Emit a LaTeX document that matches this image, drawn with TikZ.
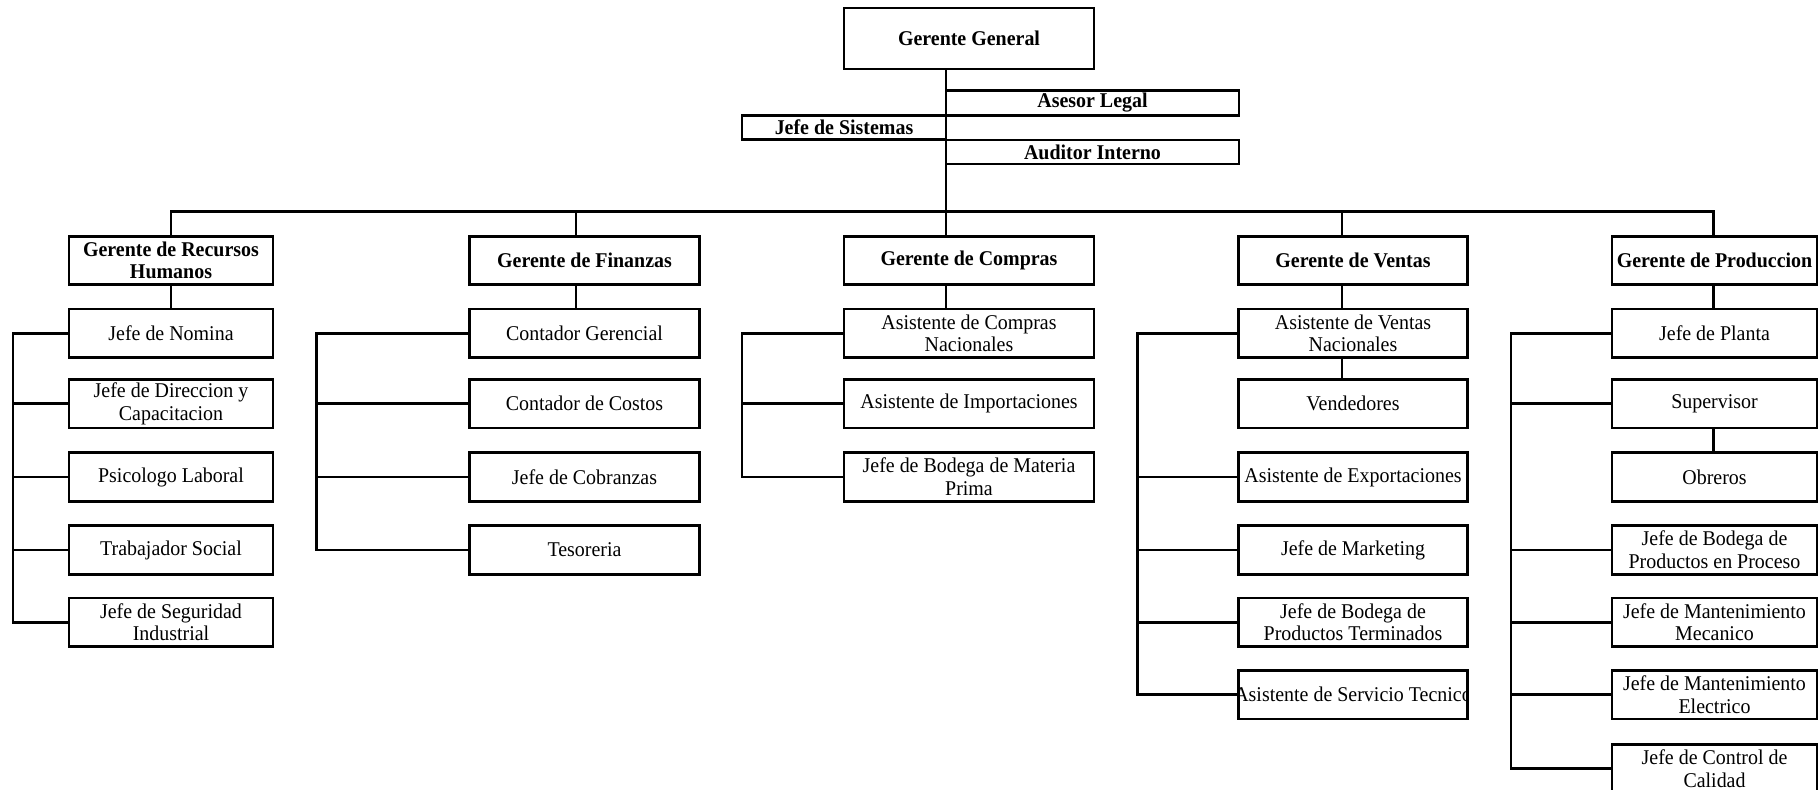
\documentclass[tikz,border=0pt]{standalone}
\usepackage{fontspec}
\setmainfont{Liberation Serif}[FakeStretch=0.95]
\begin{document}
\begin{tikzpicture}[x=0.5pt,y=-0.5pt,
  box/.style={draw, line width=1.35pt, inner sep=0pt, align=center,
              font=\fontsize{10.5}{11.3}\selectfont},
  head/.style={box, font=\bfseries\fontsize{10.5}{11.3}\selectfont},
  row/.style={minimum height=24.3pt},
  wrh/.style={minimum width=102pt},
  wfin/.style={minimum width=114.75pt},
  wcomp/.style={minimum width=125pt},
  wven/.style={minimum width=114.25pt},
  wprod/.style={minimum width=102.5pt},
  link/.style={line width=1.35pt}]
\useasboundingbox (0,0) rectangle (1818,790);
\fill[white] (0,0) rectangle (1818,790);
\clip (0,0) rectangle (1818,790);

% guide coordinates for the vertical lines
\coordinate (trunk) at (946,0);
\coordinate (bus) at (0,211.7);
\coordinate (drh) at (171,0);
\coordinate (dfin) at (576,0);
\coordinate (dven) at (1342,0);
\coordinate (dprod) at (1713.6,0);
\coordinate (brh) at (13,0);
\coordinate (bfin) at (316.6,0);
\coordinate (bcomp) at (742,0);
\coordinate (bven) at (1137.5,0);
\coordinate (bprod) at (1511,0);

% top level
\node[head, minimum width=125pt, minimum height=30.5pt] (gg) at (969,38.5) {Gerente General};
\node[head, minimum width=146.5pt, minimum height=12.2pt] (al) at (1092.5,103) {Asesor Legal};
\node[head, minimum width=102pt, minimum height=12pt] (js) at (844,127.5) {Jefe de Sistemas};
\node[head, minimum width=146.5pt, minimum height=12pt] (ai) at (1092.5,152) {Auditor Interno};

% managers
\node[head, row, wrh] (rh) at (171,260.5) {Gerente de Recursos\\Humanos};
\node[head, row, wfin] (fin) at (584.5,260.5) {Gerente de Finanzas};
\node[head, row, wcomp] (comp) at (969,260.5) {Gerente de Compras};
\node[head, row, wven] (ven) at (1353,260.5) {Gerente de Ventas};
\node[head, row, wprod] (prod) at (1714.5,260.5) {Gerente de Produccion};

% Recursos Humanos
\node[box, row, wrh] (h1) at (171,333.2) {Jefe de Nomina};
\node[box, row, wrh] (h2) at (171,403.7) {Jefe de Direccion y\\Capacitacion};
\node[box, row, wrh] (h3) at (171,477) {Psicologo Laboral};
\node[box, row, wrh] (h4) at (171,550) {Trabajador Social};
\node[box, row, wrh] (h5) at (171,622.4) {Jefe de Seguridad\\Industrial};

% Finanzas
\node[box, row, wfin] (f1) at (584.5,333.2) {Contador Gerencial};
\node[box, row, wfin] (f2) at (584.5,403.7) {Contador de Costos};
\node[box, row, wfin] (f3) at (584.5,477) {Jefe de Cobranzas};
\node[box, row, wfin] (f4) at (584.5,550) {Tesoreria};

% Compras
\node[box, row, wcomp] (c1) at (969,333.2) {Asistente de Compras\\Nacionales};
\node[box, row, wcomp] (c2) at (969,403.7) {Asistente de Importaciones};
\node[box, row, wcomp] (c3) at (969,477) {Jefe de Bodega de Materia\\Prima};

% Ventas
\node[box, row, wven] (v1) at (1353,333.2) {Asistente de Ventas\\Nacionales};
\node[box, row, wven] (v2) at (1353,403.7) {Vendedores};
\node[box, row, wven] (v3) at (1353,477) {Asistente de Exportaciones};
\node[box, row, wven] (v4) at (1353,550) {Jefe de Marketing};
\node[box, row, wven] (v5) at (1353,622.4) {Jefe de Bodega de\\Productos Terminados};
\node[box, row, wven, path picture={
    \node[font=\fontsize{10.5}{11.3}\selectfont] at (path picture bounding box.center)
      {Asistente de Servicio Tecnico};}] (v6) at (1353,694.7) {};

% Produccion
\node[box, row, wprod] (p1) at (1714.5,333.2) {Jefe de Planta};
\node[box, row, wprod] (p2) at (1714.5,403.7) {Supervisor};
\node[box, row, wprod] (p3) at (1714.5,477) {Obreros};
\node[box, row, wprod] (p4) at (1714.5,550) {Jefe de Bodega de\\Productos en Proceso};
\node[box, row, wprod] (p5) at (1714.5,622.4) {Jefe de Mantenimiento\\Mecanico};
\node[box, row, wprod] (p6) at (1714.5,694.7) {Jefe de Mantenimiento\\Electrico};
\node[box, row, wprod] (p7) at (1714.5,768.5) {Jefe de Control de\\Calidad};

% trunk and bus
\draw[link] (gg.south -| trunk) -- (comp.north -| trunk);
\draw[link] (rh.north -| drh) -- (drh |- bus) -- (dprod |- bus) -- (prod.north -| dprod);
\draw[link] (dfin |- bus) -- (fin.north -| dfin);
\draw[link] (dven |- bus) -- (ven.north -| dven);

% managers to first reports
\draw[link] (rh.south -| drh) -- (h1.north -| drh);
\draw[link] (fin.south -| dfin) -- (f1.north -| dfin);
\draw[link] (comp.south -| trunk) -- (c1.north -| trunk);
\draw[link] (ven.south -| dven) -- (v1.north -| dven);
\draw[link] (prod.south -| dprod) -- (p1.north -| dprod);
\draw[link] (v1.south -| dven) -- (v2.north -| dven);
\draw[link] (p2.south -| dprod) -- (p3.north -| dprod);

% side brackets
\draw[link] (h1.west) -- (h1.west -| brh) -- (h5.west -| brh) -- (h5.west);
\foreach \n in {h2,h3,h4} \draw[link] (\n.west) -- (\n.west -| brh);
\draw[link] (f1.west) -- (f1.west -| bfin) -- (f4.west -| bfin) -- (f4.west);
\foreach \n in {f2,f3} \draw[link] (\n.west) -- (\n.west -| bfin);
\draw[link] (c1.west) -- (c1.west -| bcomp) -- (c3.west -| bcomp) -- (c3.west);
\draw[link] (c2.west) -- (c2.west -| bcomp);
\draw[link] (v1.west) -- (v1.west -| bven) -- (v6.west -| bven) -- (v6.west);
\foreach \n in {v3,v4,v5} \draw[link] (\n.west) -- (\n.west -| bven);
\draw[link] (p1.west) -- (p1.west -| bprod) -- (p7.west -| bprod) -- (p7.west);
\foreach \n in {p2,p4,p5,p6} \draw[link] (\n.west) -- (\n.west -| bprod);
\end{tikzpicture}
\end{document}
